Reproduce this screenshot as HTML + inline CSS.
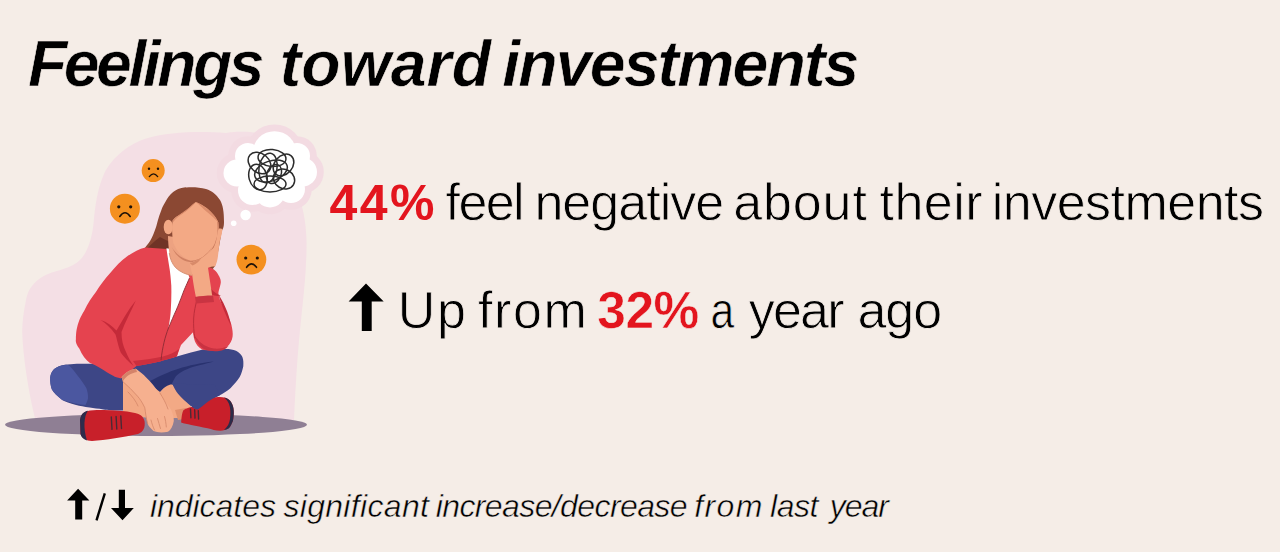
<!DOCTYPE html>
<html><head><meta charset="utf-8">
<style>
html,body{margin:0;padding:0;}
body{width:1280px;height:552px;background:#f5ede7;position:relative;overflow:hidden;font-family:"Liberation Sans",sans-serif;color:#000;}
.t{position:absolute;white-space:nowrap;line-height:1;-webkit-text-stroke:0.8px #f5ede7;}
.r{-webkit-text-stroke:0;}
.r{color:#e3151e;font-weight:bold;}
.title{font-size:64.3px;font-weight:bold;font-style:italic;-webkit-text-stroke:0.6px #f5ede7;}
.l1,.l2,.l3{font-size:52px;}
.ft{font-size:32px;font-style:italic;-webkit-text-stroke:0.5px #f5ede7;}
#p44{left:329.5px;top:177.8px;font-size:50px;letter-spacing:2.5px;}
#p32{left:597.3px;top:285px;font-size:51.4px;letter-spacing:-0.5px;-webkit-text-stroke:0.5px #f5ede7;}
svg{position:absolute;left:0;top:0;}
</style></head><body>
<div class="t title" style="left:28.00px;top:32.0px;letter-spacing:-3.457px">Feelings</div>
<div class="t title" style="left:279.80px;top:32.0px;letter-spacing:0.080px">toward</div>
<div class="t title" style="left:502.30px;top:32.0px;letter-spacing:-1.820px">investments</div>
<div class="t l1" style="left:445.60px;top:175.8px;letter-spacing:-1.600px">feel</div>
<div class="t l1" style="left:534.40px;top:175.8px;letter-spacing:-0.973px">negative</div>
<div class="t l1" style="left:733.30px;top:175.8px;letter-spacing:0.850px">about</div>
<div class="t l1" style="left:879.50px;top:175.8px;letter-spacing:0.450px">their</div>
<div class="t l1" style="left:991.80px;top:175.8px;letter-spacing:-0.520px">investments</div>
<div class="t l2" style="left:397.80px;top:283.6px;letter-spacing:1.600px">Up</div>
<div class="t l2" style="left:478.10px;top:283.6px;letter-spacing:1.533px">from</div>
<div class="t l3" style="left:748.80px;top:284.0px;letter-spacing:-1.801px">year</div>
<div class="t l3" style="left:857.50px;top:284.0px;letter-spacing:-1.100px">ago</div>
<div class="t ft" style="left:149.90px;top:490.0px;letter-spacing:-0.025px">indicates</div>
<div class="t ft" style="left:283.40px;top:490.0px;letter-spacing:0.320px">significant</div>
<div class="t ft" style="left:435.70px;top:490.0px;letter-spacing:-0.601px">increase/decrease</div>
<div class="t ft" style="left:694.30px;top:490.0px;letter-spacing:1.333px">from</div>
<div class="t ft" style="left:770.10px;top:490.0px;letter-spacing:-0.534px">last</div>
<div class="t ft" style="left:829.70px;top:490.0px;letter-spacing:-1.000px">year</div>
<div class="t r" id="p44">44%</div>
<div class="t r" id="p32">32%</div>
<div class="t l3" id="a1" style="left:709.6px;top:284px;transform:scaleX(0.82);transform-origin:3px 0">a</div>
<svg width="1280" height="552" viewBox="0 0 1280 552">

<!-- illustration -->
<path id="blob" d="M275 135 L250 132 C235 131.5 230 132.5 226 133 C200 131 168 132 148 138 C130 143 112 157 104 174 C97 190 95 207 93.7 222 C92 238 88 252 80 260 C72 268 58 270 48 274 C36 279 28 288 26 300 C23.5 312 22.3 322 22.2 332 C23 355 28 390 35.5 420 L294 420 C295 395 297 360 300 330 C303 300 307 270 306.5 240 C306 225 304 212 300 200 Z" fill="#f4dfe5"/>
<g fill="#f3dbe2"><circle cx="274.5" cy="153" r="28.6"/><circle cx="248" cy="156" r="19.8"/><circle cx="237" cy="173" r="20.3"/><circle cx="252.5" cy="190.5" r="21.3"/><circle cx="270" cy="192.5" r="21.8"/><circle cx="291" cy="189" r="20.8"/><circle cx="302.5" cy="172" r="21.3"/><circle cx="297" cy="156" r="19.8"/><circle cx="272" cy="172" r="32.8"/></g>
<g fill="#fff"><circle cx="274.5" cy="153" r="21.8"/><circle cx="248" cy="156" r="13"/><circle cx="237" cy="173" r="13.5"/><circle cx="252.5" cy="190.5" r="14.5"/><circle cx="270" cy="192.5" r="15"/><circle cx="291" cy="189" r="14"/><circle cx="302.5" cy="172" r="14.5"/><circle cx="297" cy="156" r="13"/><circle cx="272" cy="172" r="26"/><circle cx="245.6" cy="215" r="5.2"/><circle cx="233.7" cy="223.3" r="2.8"/></g>
<g fill="none" stroke="#2c2c2c" stroke-width="1.5">
<ellipse cx="259.5" cy="163.0" rx="12.5" ry="9.5" transform="rotate(40 259.5 163.0)"/>
<ellipse cx="272.0" cy="158.0" rx="14" ry="8.5" transform="rotate(5 272.0 158.0)"/>
<ellipse cx="283.5" cy="165.0" rx="12" ry="9" transform="rotate(-50 283.5 165.0)"/>
<ellipse cx="284.0" cy="179.0" rx="11" ry="9.5" transform="rotate(30 284.0 179.0)"/>
<ellipse cx="270.0" cy="184.0" rx="16" ry="8" transform="rotate(0 270.0 184.0)"/>
<ellipse cx="258.0" cy="177.0" rx="9" ry="13" transform="rotate(-15 258.0 177.0)"/>
<ellipse cx="271.0" cy="171.0" rx="17" ry="10" transform="rotate(-20 271.0 171.0)"/>
<ellipse cx="274.0" cy="174.0" rx="7" ry="10" transform="rotate(25 274.0 174.0)"/>
<ellipse cx="268.0" cy="168.0" rx="9" ry="15" transform="rotate(10 268.0 168.0)"/>
</g>
<!-- emojis -->
<g>
<circle cx="153.2" cy="170.6" r="11.5" fill="#f4901f"/>
<circle cx="124.9" cy="208.7" r="15" fill="#f4901f"/>
<circle cx="251.4" cy="259.6" r="14.9" fill="#f4901f"/>
<g fill="#1e1208"><circle cx="149" cy="168.8" r="1.2"/><circle cx="158" cy="168.8" r="1.2"/>
<circle cx="118.8" cy="206.8" r="1.6"/><circle cx="130.7" cy="206.8" r="1.6"/>
<circle cx="245.7" cy="258" r="1.6"/><circle cx="257.3" cy="258" r="1.6"/></g>
<g fill="none" stroke="#1e1208" stroke-linecap="round">
<path d="M149.3 176.6 Q153.5 171 157.7 176.6" stroke-width="1.3"/>
<path d="M119.8 216.5 Q125 209 130.2 216.5" stroke-width="1.6"/>
<path d="M246.6 267.3 Q251.5 260.5 256.5 267.3" stroke-width="1.6"/>
</g>
</g>
<!-- shadow -->
<ellipse cx="156" cy="424.8" rx="151" ry="11.2" fill="#8f7f94"/>

<!-- body -->
<g id="body">
<!-- hair back -->
<path d="M185.5 187.3 C179.5 188 176 189.8 173.1 192 C169.5 195 167.5 198 165.9 201.1 C163.5 205 162.3 207.5 161.3 210.2 C159.8 214 158.6 217.5 157.7 221 C156.8 224.5 156 227.5 155 230.1 C153 236 151 240 148.7 242.9 C147 245 145.5 247 144.3 248.7 L174 250 L200 262 L212 270 L215 266 C217 258 219.5 245 221.5 232 C222.5 229 224 228 224 222 C224 212 223 205 220 200 C216 194 212 191 206 189 C200 187.5 193 187 186.4 187.5 Z" fill="#8b4833"/>
<path d="M160 237 C165 240 170 242 174 243 L174 250 L146 249 C150 246 154 241 160 237 Z" fill="#6f3326"/>
<!-- legs -->
<path d="M57 367.2 C62 365 66 364.6 67.4 364.6 C72 364 76 363.8 79.4 363.8 L93.2 363.8 L120 362 L136 364 C150 361 165 359 176.8 356.5 C186 354 196 351 204.7 349 L207 349 C215 349 220 349 225.2 349 C230 349 233 349.5 236 350.8 C239 352.5 241 354 242.4 357.1 C243.5 360 243.5 363 243.3 366.2 C242.5 370 241.5 373.5 239.7 377 C237 381 234 384.5 230.7 388 C227 391 223.5 393.5 219.8 395.2 C216.5 397 213.5 398.5 210.8 399.7 L190 406 L123 410.5 C112 410.5 108 410 103.5 409.4 C98 408.8 94 408.2 89.7 407.6 C84 406.8 80 406 76 405 C70 403 65 401.5 62.2 399.9 C57 396 54 393 51.9 389.6 C50.5 386 50 381 50.2 377.5 C51 372 53.5 369 57 367.2 Z" fill="#3d4686"/>
<path d="M57 367.2 C62 365 66 364.6 69.1 365.5 C72 368 75 372 77.7 375.8 C81 380 84 384 86.3 387.9 C87.5 391 88.2 395 88 398.2 C87.5 401 86.5 403 85.4 405 C80 404.5 72 403 62.2 399.9 C57 396 54 393 51.9 389.6 C50.5 386 50 381 50.2 377.5 C51 372 53.5 369 57 367.2 Z" fill="#4b57a0"/>
<path d="M150 380.9 C160 376 170 371 177.8 368.9 C190 365 200 363 213.7 361.4 C205 364 195 366 189.8 367.9 C182 371 177 374 174.8 377.9 C173 381 172 383 171.8 384.8 L158.9 391.8 Z" fill="#29326f"/>
<!-- jacket torso + left arm -->
<path d="M145.4 247.4 L167 249 L192 268 L200 280 L200 300 L197 328 L181 345 L176.8 356.5 C170 358.5 165 360 160 361.5 C150 363.5 142 365 136.5 366 L121 378.5 C117 377.5 115 377 113.6 376 C108 373 105 371 101.8 368.9 C97 366 93 364 90 363 C86 360 82 355 79.4 348.7 C76 344 75.5 342 75.9 339.3 C76 333 76.5 330 77.1 327.5 C79 320 81 316 84.1 311 C88 303 92 297 95.9 292.1 C100 285 105 279 110 273.3 C116 266 121 261 126.6 256.8 C133 252 139 249 145.4 247.4 Z" fill="#e5434f"/>
<path d="M100.6 320 C107 322 112 326 116.5 330.5 C122 321 128 310 135.8 300.5 C131 312 125 322 121.5 332 C121.5 340 123 346 126 352 C128 357 131 362 133.5 366 C128 361 124 357 121 353 C118 346 117 339 115.5 334.5 C111 328 106 323.5 100.6 320 Z" fill="#c42a39"/>
<path d="M133 361 C145 359.5 155 358.5 163 356.5 C170 354.5 175 352 179 349 L176.8 356.5 C170 358.5 165 360 160 361.5 C150 363.5 142 365 136.5 366 Z" fill="#cc2f3e"/>
<!-- skin: ankles behind -->
<path d="M123 381.7 C128 378 140 378 147 382 L160 392 C165 386 170 384 172.3 384.6 C180 392 186 400 191.2 406.4 L186 418 L150 418 L123 415 Z" fill="#f3a985"/>
<path d="M175 410 L186 408 L190 418 L178 420 Z" fill="#e0906d"/>
<!-- left forearm / hand -->
<path d="M121.6 377 C126 372 131 369 136 368.7 C140 372 143 374 146.2 377.4 C151 382 155 387 159.3 393.3 C164 400 168 405 170.9 409.3 C173 414 174 418 173.8 421 C173 426 171 430 168 431.7 C162 433 157 432.5 153.5 431 C150 428 148.5 426 147.7 423.8 C146 418 145.5 412 144.8 407.8 C142 402 140 399 137.5 396.2 C133 391 128 386 123 381.7 Z" fill="#f6b08f"/>
<path d="M121.6 377 C126 372 131 369 136 368.7 L137 372 C131 373 126 376 123 381 Z" fill="#d4836a"/>
<g fill="none" stroke="#d48668" stroke-width="0.8" stroke-linecap="round">
<path d="M123 381.7 C128 386 133 391 137.5 396.2 C140 399 142 402 144.8 407.8 C145.5 412 146 418 147.7 423.8"/>
<path d="M157.5 418.5 C158.5 422 159.5 425 160.5 428.5 M164.5 416.5 C165.5 420 166 423 166.3 427 M151 420 C152 424 153 427 154.5 430"/>
<path d="M128 392 C132 396 136 401 138 406 M160 393 C163 398 166 403 168 409"/>
</g>
<!-- shoes -->
<path d="M80 420 C81 414 84 411.5 90 410.5 C105 409.5 120 410 135 413 C140 414 143 416 144.5 421 C145.5 427 143.5 432 138 434 C125 437 105 440 92 441 C86 441 82 438 80.5 434 Z" fill="#c8202a"/>
<path d="M80 420 C81 414 84 411.5 88 410.8 C84 416 83 428 87 440.5 C83 439 81 437 80.5 434 Z" fill="#2e2c4c"/>
<path d="M181.1 422.6 C181.5 417 182 413 183.2 410.4 C186 408.5 188.5 407.6 191.3 407.1 C197 405 203 401.5 209.2 399 C212 398 215 397 218.2 396.9 C221 396.8 223 397 225.5 397.7 C228 398.8 230 400 231.2 402.2 C232.8 405 233.5 407.5 233.7 410.4 C234 414 233.5 418 232.9 421 C231.5 424.5 230.5 426.5 228.8 428.3 C226 430 223.5 430.5 220.6 430.7 C216 430.8 212 429.5 207.6 428.3 C202 427 196 426 191.3 425 C187 424.3 184 423.6 181.1 422.6 Z" fill="#c81f2a"/>
<path d="M224 397.5 C228 398.5 230 400 231.2 402.2 C232.8 405 233.5 407.5 233.7 410.4 C234 414 233.5 418 232.9 421 C231.5 424.5 230.5 426.5 228.8 428.3 C227 429.3 225.5 429.8 224 430 C227.5 427 229.5 423 230 419 C230.8 413 230.5 408 229 404 C228 401.5 226.5 399.5 224 397.5 Z" fill="#2d2b48"/>
<g stroke="#4a2a35" stroke-width="1.4" stroke-linecap="round">
<path d="M111.3 417 L112 429.4 M116.1 416.5 L116.8 429 M120.8 416 L121.5 428.5"/>
<path d="M190.5 409 L190.9 417.7 M194.7 409.8 L195 418.1 M198.3 410.6 L198.6 419"/>
</g>
<path d="M172.2 383.5 C174 388 176 391 177.6 393.3 C181 397 183.5 400 186.3 402 C189 404.5 191 406 192.8 407.4 C195 408.8 196.5 409.5 197.8 409.6 C200 408 202.5 406 205 404 C209 400.5 214 397.5 219.8 395.2 L215 385 Z" fill="#3d4686"/>
<!-- right arm -->
<path d="M202 266 C208 266 213.7 268.3 216.5 272 C220 277 221 280 220.8 282.4 C220 288 218.4 290 218.4 294.2 C220 302 223 306 225.5 310.7 C228 316 230 320 231.4 324.8 C232.5 330 233 333 232.6 336.6 C232 341 230 344 227.9 346 C224 349 220 350 216.1 350.7 C210 351 205 350.5 202 349.6 C198 347 196 344 194.9 341.3 C193.5 337 193 333 192.5 329.5 C192.5 322 193 316 193.7 310.7 C194.5 305 195.5 300 197.2 299 C197 290 198 275 202 266 Z" fill="#e4434f"/>
<path d="M218.4 294.2 C221 305 226 315 231 326 C230 318 226 306 218.4 294.2 Z" fill="#c42b3a"/>
<path d="M194.5 336 C196 342 200 347 205 349.6 C210 351.3 215 351.5 219 351 C223 350.5 226 349 228.5 346 C224 348 219 349 214 348.5 C207 347.5 201 344 197 338.5 Z" fill="#c93241"/>
<path d="M197.2 299 C195.5 305 194 312 193.7 318 C193.3 325 193.8 332 194.9 338" fill="none" stroke="#b82a38" stroke-width="0.9"/>
<path d="M208.5 284 C211 290 215 293.5 221 295.5 C218 296.5 214 296 211 294 C209.5 291 208.8 288 208.5 284 Z" fill="#c42b3a"/>
<!-- white shirt -->
<path d="M166.4 248.3 L181 250 L189.5 278 C186 286 184 290 182.7 293.9 C180 301 178 306 176.2 310.2 C173.5 316 171.5 321 168.5 328 C169.5 322 170.5 316 170.8 310 C171.3 302 171.5 294 171.3 285.8 C170.8 278 170.2 273 169.7 269.5 C168.5 262 167.3 255 166.4 248.3 Z" fill="#ffffff"/>
<!-- zipper line -->
<path d="M189.5 278 C186 286 184 290 182.7 293.9 C180 301 178 306 176.2 310.2 C173.5 316 171.5 321 168.5 328 C165 337 162.5 347 161 360" fill="none" stroke="#8c2a33" stroke-width="0.9"/>
<!-- neck -->
<path d="M168 236 L192 240 L192 262 L192 275.5 C186 274.5 180 272 175.5 267.5 C172 263.5 170 258.5 169.3 253 C168.6 247 168 241 168 236 Z" fill="#eda281"/>
<path d="M169.3 253 C170 258.5 172 263.5 175.5 267.5 C180 272 186 274.5 192 275.5" fill="none" stroke="#d48a6c" stroke-width="0.9"/>
<!-- face -->
<path d="M172.6 220.4 C172 226 172 229 172.2 232.7 C172.4 237 172.8 240 173.3 242.9 C175 247 177 250 179.1 253 C182 256 185 258 187.8 259.5 C191 261 194 261.5 196.5 261.4 C200 261 203 260 205.2 258.8 C208 256 210.5 254 212.5 251.6 C214.5 249 216 246 216.8 242.9 C218 238.5 218.8 234 219 231.3 C219 227 218.8 225 218.3 222.6 C217 219.5 215.5 217 213.9 215.3 C211.5 212.5 209 210 206.7 208.1 C204 206 201.5 204.5 199.4 203.7 C198 203 197 202.4 195.8 202 C194 203.5 192.5 205 190.7 206.6 C188 209 186 211 183.5 212.4 C181 214 178.5 215.5 176.2 216.8 C174.8 218 173.6 219 172.6 220.4 Z" fill="#f3a985"/>
<path d="M172.6 220.4 C176 217 182 213 188 208.5 C192 205 194 203 195.8 202 C193 205.5 189 209 185 212 C180 215.5 176 218 173.2 222 Z" fill="#dc8d6c"/>
<path d="M195.8 202 C201 204 207 208 211.5 212.5 C214.5 215.5 216.5 218 218.3 222.6 C215 219 211 215 207 212 C203 208.5 199.5 205 195.8 202 Z" fill="#dc8d6c"/>
<ellipse cx="168.3" cy="227" rx="4.6" ry="7.3" fill="#f3a985"/>
<path d="M171.5 246.5 C175 253 181 258.5 190.6 260.8 C199 260.5 206 256 212.5 246.5 C207 255.5 200 262 190.6 262.3 C181 261 175 254.5 171.5 246.5 Z" fill="#cf8163"/>
<path d="M217.9 222 C218.3 228 218.2 233 217.7 236.5 C216.5 242 214.5 246.5 211.5 250.5 C208 255 204.5 258 200 260.4" fill="none" stroke="#c97b5e" stroke-width="1.2"/>
<!-- hand on cheek -->
<path d="M189.9 263.3 C193 261.8 197 260.5 201 258.5 C206 255.5 210 251.5 213.8 247.4 C215.5 244 216.5 240 217 236 C217.5 233 218 230 219 228.6 C220.5 228.3 221.8 228.5 222.4 229 C222 234 221 237 220 240.3 C219 246 218.5 252 217.7 258 C217 262 216 264.5 215.3 266.2 C212 266.5 210 267 208 267.7 C209.5 278 211 287 212.3 296.7 L196.4 299.6 C194.5 290 193 282 192 273.5 C191 270 190.5 266.5 189.9 263.3 Z" fill="#f3a985"/>
<path d="M189.9 263.3 C193 261.8 197 260.5 201 258.5 C199 262 196 264 192.5 265.5 Z" fill="#d88a69"/>
<path d="M195 297 C200 296 206 295.5 213 295.5 L214 302 C208 302.5 202 303 196 303.5 Z" fill="#c93442"/>
</g>
<!-- arrows -->
<path d="M366 283.6 L383.7 301.6 L371.7 301.6 L371.7 331 L361.8 331 L361.8 301.6 L348.6 301.6 Z" fill="#000"/>
<path d="M78.1 488.8 L89.4 500.6 L82.2 500.6 L82.2 519.4 L75.2 519.4 L75.2 500.6 L67.1 500.6 Z" fill="#000"/>
<path d="M96.5 520.4 L104.8 493.3" stroke="#000" stroke-width="2.4"/>
<path d="M122.5 520.3 L133.8 508.1 L125 508.1 L125 489.8 L118.8 489.8 L118.8 508.1 L111 508.1 Z" fill="#000"/>
</svg>
</body></html>
